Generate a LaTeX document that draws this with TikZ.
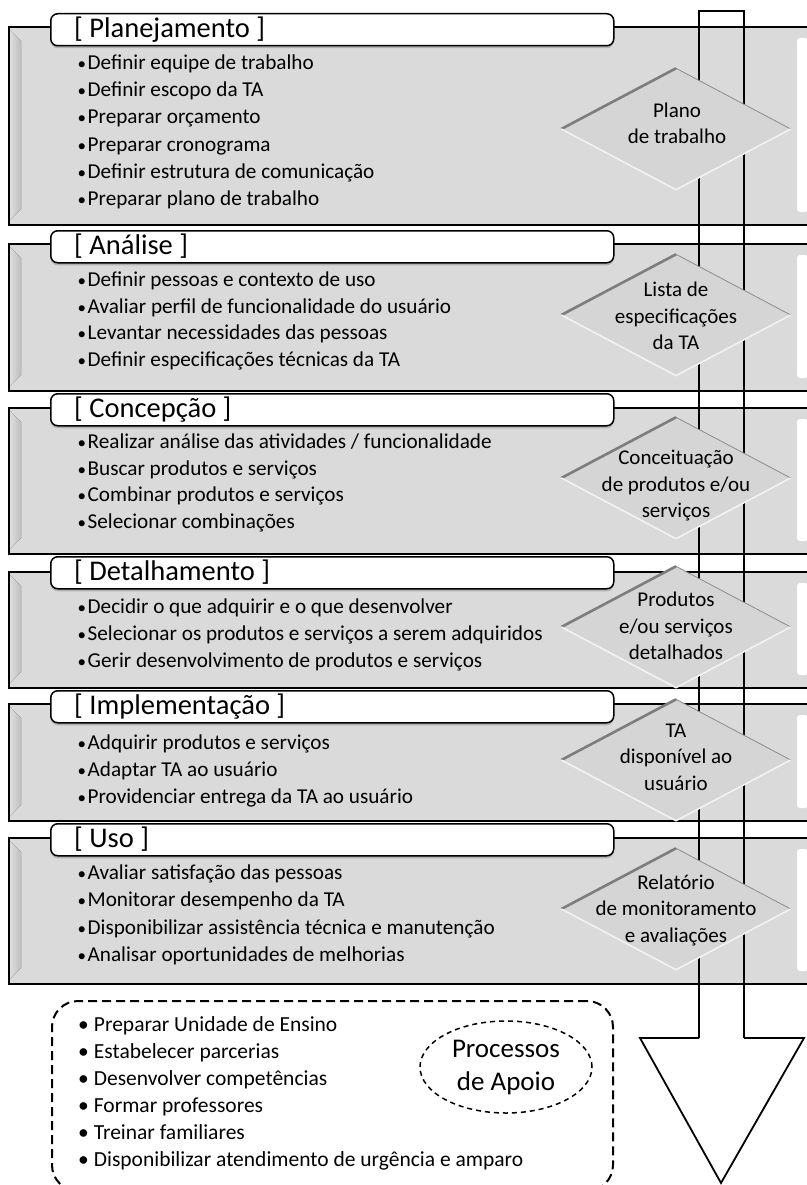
\documentclass[tikz,border=0pt]{standalone}
\usepackage{fontspec}
\setmainfont{Carlito}
\usetikzlibrary{shapes.geometric,shadows}

\definecolor{panelgray}{RGB}{218,218,218}
\definecolor{outgray}{RGB}{213,213,213}
\definecolor{edgedark}{RGB}{125,125,125}
\definecolor{edgemid}{RGB}{140,140,140}
\definecolor{edgelight}{RGB}{242,242,242}

% small list bullet followed by a narrow gap
\newcommand{\listdot}{{\fontsize{17}{17}\selectfont\textbullet}\hspace{1.5pt}}

% one stage: id, panel top, panel bottom, tab top, title
\newcommand{\stageframe}[5]{%
  \node[stagebox, minimum height={#3-#2}] (b#1) at (8,#2) {};
  \fill[left color=white, right color=panelgray, opacity=.85]
    (10,#2+4) -- (21,#2+15) -- (21,#3-15) -- (10,#3-4) -- cycle;
  \fill[white, rounded corners=3pt] (797,#2+12) rectangle (808,#3-12);
  \node[tabbox] (t#1) at (50,#4) {};
  \node[stagetitle] (h#1) at (74,#4+24.5) {[ #5 ]};
}

\begin{document}
\begin{tikzpicture}[x=1pt,y=-1pt,
  stagebox/.style={draw=black, line width=1.8pt, fill=panelgray, inner sep=0pt,
    anchor=north west, minimum width=802},
  tabbox/.style={draw=black, line width=1.5pt, fill=white, rounded corners=7pt,
    inner sep=0pt, anchor=north west, minimum width=563, minimum height=32,
    drop shadow={shadow xshift=0pt, shadow yshift=-2.5pt, opacity=.45}},
  stagetitle/.style={anchor=base west, inner sep=0pt, font=\fontsize{28.5}{33}\selectfont},
  item/.style={anchor=base west, inner sep=0pt, font=\fontsize{21.2}{26}\selectfont},
  supitem/.style={anchor=base west, inner sep=0pt, font=\fontsize{21.5}{26}\selectfont},
  outcome/.style={diamond, fill=outgray, inner sep=0pt, minimum width=229, minimum height=121},
  outtext/.style={align=center, inner sep=0pt, font=\fontsize{21}{26.5}\selectfont},
  flow/.style={draw=black, line width=1.8pt, line join=miter},
  support/.style={draw=black, line width=2pt, dash pattern=on 9pt off 5pt,
    rounded corners=26pt, inner sep=0pt, anchor=north west},
  supporttag/.style={ellipse, draw=black, line width=1.5pt, dash pattern=on 5pt off 4pt,
    inner sep=0pt, minimum width=172, minimum height=92}]

\useasboundingbox (0,0) rectangle (806,1185);

% stage panels with their title tabs
\stageframe{1}{26}{224}{13}{Planejamento}
\stageframe{2}{243}{390}{230}{Análise}
\stageframe{3}{407}{553}{393}{Concepção}
\stageframe{4}{571}{687}{556}{Detalhamento}
\stageframe{5}{703}{820}{690}{Implementação}
\stageframe{6}{837}{983}{823}{Uso}

% the long flow arrow running through all stages
\coordinate (sl) at (699,1038);
\coordinate (tl) at (699,11);
\coordinate (tr) at (744,11);
\coordinate (sr) at (744,1038);
\coordinate (hr) at (804,1038);
\coordinate (tip) at (721,1183);
\coordinate (hl) at (640,1038);
\draw[flow] (sl) -- (tl) -- (tr) -- (sr);
\draw[flow, fill=white] (sl) -- (hl) -- (tip) -- (hr) -- (sr);

% outcome diamonds
\foreach \n/\y in {1/129,2/315,3/478,4/627,5/760,6/909}{
  \node[outcome] (d\n) at (676,\y) {};
  \draw[edgedark, line width=2.6pt] (d\n.west) -- (d\n.north);
  \draw[edgemid, line width=0.8pt] (d\n.north) -- (d\n.east);
  \draw[edgelight, line width=1.6pt] (d\n.east) -- (d\n.south) -- (d\n.west);
}
\node[outtext] (o1) at (677,123.5) {Plano\\de trabalho};
\node[outtext] (o2) at (676,316) {Lista de\\especificações\\da TA};
\node[outtext] (o3) at (676,486) {Conceituação\\de produtos e/ou\\serviços};
\node[outtext] (o4) at (676,626) {Produtos\\e/ou serviços\\detalhados};
\node[outtext] (o5) at (676,757) {TA\\disponível ao\\usuário};
\node[outtext] (o6) at (676,910) {Relatório\\de monitoramento\\e avaliações};

% activity lists
\foreach \t [count=\i] in {Definir equipe de trabalho, Definir escopo da TA,
  Preparar orçamento, Preparar cronograma, Definir estrutura de comunicação,
  Preparar plano de trabalho}
  \node[item] (pa\i) at (77.5,{69.5+27.2*(\i-1)}) {\listdot\t};
\foreach \t [count=\i] in {Definir pessoas e contexto de uso,
  Avaliar perfil de funcionalidade do usuário, Levantar necessidades das pessoas,
  Definir especificações técnicas da TA}
  \node[item] (pb\i) at (77.5,{286.5+26.7*(\i-1)}) {\listdot\t};
\foreach \t [count=\i] in {Realizar análise das atividades / funcionalidade,
  Buscar produtos e serviços, Combinar produtos e serviços, Selecionar combinações}
  \node[item] (pc\i) at (77.5,{448.5+26.7*(\i-1)}) {\listdot\t};
\foreach \t [count=\i] in {Decidir o que adquirir e o que desenvolver,
  Selecionar os produtos e serviços a serem adquiridos,
  Gerir desenvolvimento de produtos e serviços}
  \node[item] (pd\i) at (77.5,{613.5+27*(\i-1)}) {\listdot\t};
\foreach \t [count=\i] in {Adquirir produtos e serviços, Adaptar TA ao usuário,
  Providenciar entrega da TA ao usuário}
  \node[item] (pe\i) at (77.5,{749.5+27*(\i-1)}) {\listdot\t};
\foreach \t [count=\i] in {Avaliar satisfação das pessoas, Monitorar desempenho da TA,
  Disponibilizar assistência técnica e manutenção, Analisar oportunidades de melhorias}
  \node[item] (pf\i) at (77.5,{879.5+27.4*(\i-1)}) {\listdot\t};

% supporting processes
\node[support, minimum width=561, minimum height=190] (sup) at (51,1000) {};
\node[supporttag] (tag) at (506,1067) {};
\node[align=center, inner sep=0pt, font=\fontsize{27}{33}\selectfont] (tagtext) at (506,1068)
  {Processos\\de Apoio};
\foreach \t [count=\i] in {Preparar Unidade de Ensino, Estabelecer parcerias,
  Desenvolver competências, Formar professores, Treinar familiares,
  Disponibilizar atendimento de urgência e amparo}
  \node[supitem] (ps\i) at (78,{1031+27*(\i-1)}) {\textbullet\hspace{5pt}\t};
\end{tikzpicture}
\end{document}
